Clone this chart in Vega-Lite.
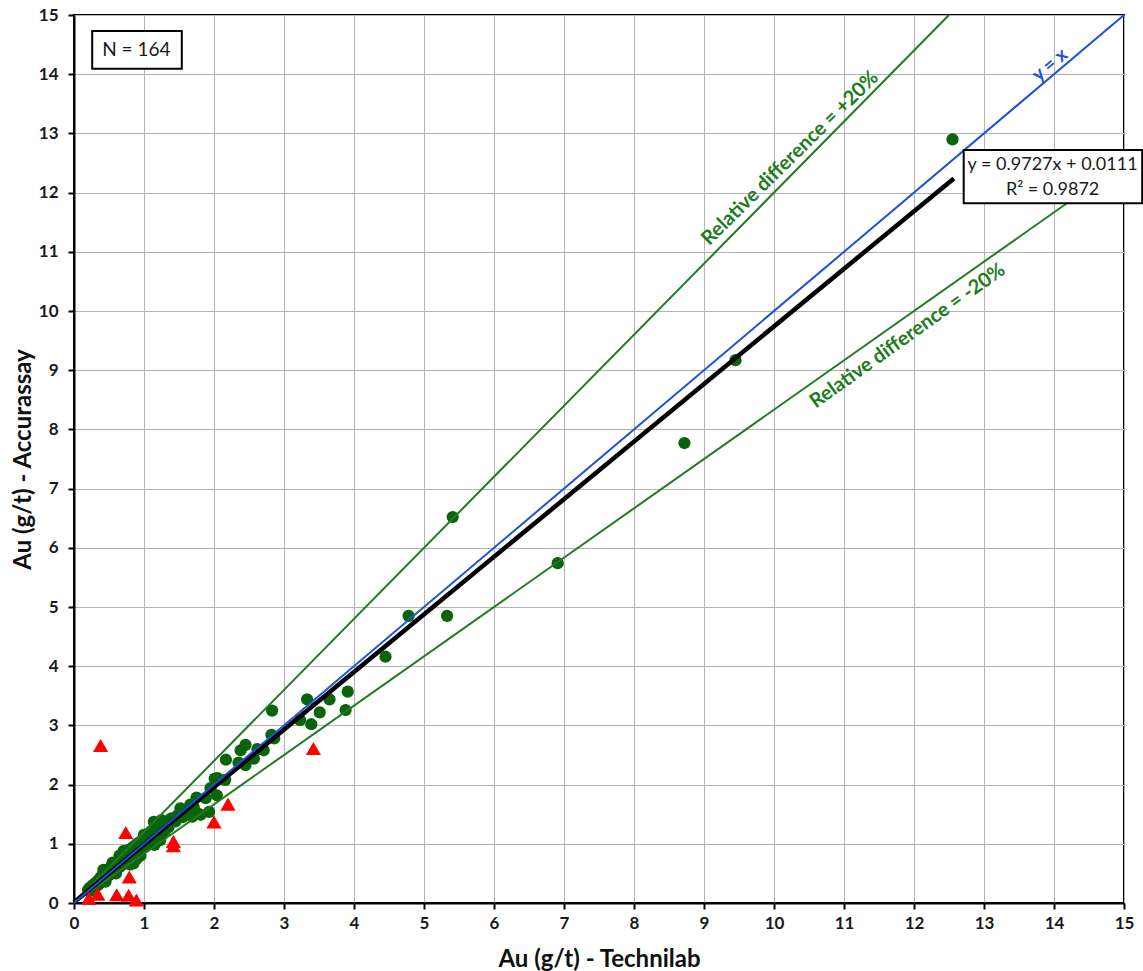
{
  "$schema": "https://vega.github.io/schema/vega-lite/v6.json",
  "width": 1050,
  "height": 888,
  "autosize": {"type": "none"},
  "padding": {"left": 74, "top": 15, "right": 19, "bottom": 68},
  "background": "white",
  "config": {
    "font": "Lato",
    "view": {"stroke": "black", "strokeWidth": 2}
  },
  "datasets": {
    "green": [
      {"technilab": 12.55, "accurassay": 12.9},
      {"technilab": 9.45, "accurassay": 9.17},
      {"technilab": 8.72, "accurassay": 7.77},
      {"technilab": 6.91, "accurassay": 5.74},
      {"technilab": 5.41, "accurassay": 6.52},
      {"technilab": 4.78, "accurassay": 4.85},
      {"technilab": 5.33, "accurassay": 4.85},
      {"technilab": 4.45, "accurassay": 4.16},
      {"technilab": 3.91, "accurassay": 3.57},
      {"technilab": 3.88, "accurassay": 3.26},
      {"technilab": 3.65, "accurassay": 3.44},
      {"technilab": 3.33, "accurassay": 3.44},
      {"technilab": 3.51, "accurassay": 3.22},
      {"technilab": 3.39, "accurassay": 3.02},
      {"technilab": 3.23, "accurassay": 3.09},
      {"technilab": 2.83, "accurassay": 3.25},
      {"technilab": 2.86, "accurassay": 2.78},
      {"technilab": 2.82, "accurassay": 2.84},
      {"technilab": 2.45, "accurassay": 2.67},
      {"technilab": 2.38, "accurassay": 2.58},
      {"technilab": 2.71, "accurassay": 2.58},
      {"technilab": 2.62, "accurassay": 2.6},
      {"technilab": 2.57, "accurassay": 2.44},
      {"technilab": 2.45, "accurassay": 2.33},
      {"technilab": 2.35, "accurassay": 2.37},
      {"technilab": 2.17, "accurassay": 2.42},
      {"technilab": 2.05, "accurassay": 2.11},
      {"technilab": 2.16, "accurassay": 2.08},
      {"technilab": 2.01, "accurassay": 2.1},
      {"technilab": 1.95, "accurassay": 1.94},
      {"technilab": 2.04, "accurassay": 1.82},
      {"technilab": 1.88, "accurassay": 1.77},
      {"technilab": 1.71, "accurassay": 1.62},
      {"technilab": 1.52, "accurassay": 1.6},
      {"technilab": 1.93, "accurassay": 1.54},
      {"technilab": 1.81, "accurassay": 1.49},
      {"technilab": 1.69, "accurassay": 1.46},
      {"technilab": 1.4, "accurassay": 1.43},
      {"technilab": 1.14, "accurassay": 1.37},
      {"technilab": 1.31, "accurassay": 1.35},
      {"technilab": 0.2, "accurassay": 0.22},
      {"technilab": 0.22, "accurassay": 0.25},
      {"technilab": 0.24, "accurassay": 0.21},
      {"technilab": 0.25, "accurassay": 0.28},
      {"technilab": 0.27, "accurassay": 0.24},
      {"technilab": 0.28, "accurassay": 0.31},
      {"technilab": 0.3, "accurassay": 0.27},
      {"technilab": 0.31, "accurassay": 0.34},
      {"technilab": 0.32, "accurassay": 0.29},
      {"technilab": 0.34, "accurassay": 0.37},
      {"technilab": 0.35, "accurassay": 0.31},
      {"technilab": 0.36, "accurassay": 0.4},
      {"technilab": 0.37, "accurassay": 0.34},
      {"technilab": 0.38, "accurassay": 0.43},
      {"technilab": 0.39, "accurassay": 0.36},
      {"technilab": 0.4, "accurassay": 0.46},
      {"technilab": 0.41, "accurassay": 0.38},
      {"technilab": 0.42, "accurassay": 0.49},
      {"technilab": 0.42, "accurassay": 0.56},
      {"technilab": 0.43, "accurassay": 0.41},
      {"technilab": 0.44, "accurassay": 0.52},
      {"technilab": 0.45, "accurassay": 0.43},
      {"technilab": 0.45, "accurassay": 0.36},
      {"technilab": 0.46, "accurassay": 0.55},
      {"technilab": 0.47, "accurassay": 0.45},
      {"technilab": 0.48, "accurassay": 0.5},
      {"technilab": 0.5, "accurassay": 0.47},
      {"technilab": 0.51, "accurassay": 0.58},
      {"technilab": 0.52, "accurassay": 0.5},
      {"technilab": 0.53, "accurassay": 0.61},
      {"technilab": 0.55, "accurassay": 0.52},
      {"technilab": 0.55, "accurassay": 0.68},
      {"technilab": 0.56, "accurassay": 0.63},
      {"technilab": 0.57, "accurassay": 0.55},
      {"technilab": 0.58, "accurassay": 0.66},
      {"technilab": 0.6, "accurassay": 0.57},
      {"technilab": 0.6, "accurassay": 0.5},
      {"technilab": 0.61, "accurassay": 0.68},
      {"technilab": 0.62, "accurassay": 0.59},
      {"technilab": 0.64, "accurassay": 0.71},
      {"technilab": 0.65, "accurassay": 0.61},
      {"technilab": 0.65, "accurassay": 0.8},
      {"technilab": 0.66, "accurassay": 0.74},
      {"technilab": 0.68, "accurassay": 0.64},
      {"technilab": 0.69, "accurassay": 0.78},
      {"technilab": 0.7, "accurassay": 0.66},
      {"technilab": 0.71, "accurassay": 0.88},
      {"technilab": 0.72, "accurassay": 0.7},
      {"technilab": 0.74, "accurassay": 0.83},
      {"technilab": 0.75, "accurassay": 0.68},
      {"technilab": 0.76, "accurassay": 0.86},
      {"technilab": 0.78, "accurassay": 0.72},
      {"technilab": 0.79, "accurassay": 0.9},
      {"technilab": 0.8, "accurassay": 0.75},
      {"technilab": 0.8, "accurassay": 0.65},
      {"technilab": 0.82, "accurassay": 0.92},
      {"technilab": 0.83, "accurassay": 0.78},
      {"technilab": 0.85, "accurassay": 0.95},
      {"technilab": 0.85, "accurassay": 0.67},
      {"technilab": 0.86, "accurassay": 0.8},
      {"technilab": 0.88, "accurassay": 0.97},
      {"technilab": 0.89, "accurassay": 0.74},
      {"technilab": 0.9, "accurassay": 1.0},
      {"technilab": 0.92, "accurassay": 0.85},
      {"technilab": 0.94, "accurassay": 1.03},
      {"technilab": 0.95, "accurassay": 0.88},
      {"technilab": 0.95, "accurassay": 0.8},
      {"technilab": 0.97, "accurassay": 1.06},
      {"technilab": 0.98, "accurassay": 0.92},
      {"technilab": 1.0, "accurassay": 1.1},
      {"technilab": 1.0, "accurassay": 1.15},
      {"technilab": 1.02, "accurassay": 0.95},
      {"technilab": 1.04, "accurassay": 1.13},
      {"technilab": 1.05, "accurassay": 0.98},
      {"technilab": 1.07, "accurassay": 1.18},
      {"technilab": 1.09, "accurassay": 1.02},
      {"technilab": 1.11, "accurassay": 1.22},
      {"technilab": 1.12, "accurassay": 1.05},
      {"technilab": 1.15, "accurassay": 0.98},
      {"technilab": 1.16, "accurassay": 1.08},
      {"technilab": 1.18, "accurassay": 1.27},
      {"technilab": 1.2, "accurassay": 1.12},
      {"technilab": 1.22, "accurassay": 1.31},
      {"technilab": 1.23, "accurassay": 1.06},
      {"technilab": 1.25, "accurassay": 1.16},
      {"technilab": 1.25, "accurassay": 1.4},
      {"technilab": 1.27, "accurassay": 1.34},
      {"technilab": 1.3, "accurassay": 1.22},
      {"technilab": 1.35, "accurassay": 1.28},
      {"technilab": 1.38, "accurassay": 1.42},
      {"technilab": 1.45, "accurassay": 1.38},
      {"technilab": 1.48, "accurassay": 1.48},
      {"technilab": 1.55, "accurassay": 1.45},
      {"technilab": 1.58, "accurassay": 1.56},
      {"technilab": 1.62, "accurassay": 1.52},
      {"technilab": 1.66, "accurassay": 1.66},
      {"technilab": 1.76, "accurassay": 1.52},
      {"technilab": 1.75, "accurassay": 1.78}
    ],
    "red": [
      {"technilab": 0.38, "accurassay": 2.66},
      {"technilab": 0.74, "accurassay": 1.19},
      {"technilab": 0.79, "accurassay": 0.44},
      {"technilab": 0.21, "accurassay": 0.08},
      {"technilab": 0.34, "accurassay": 0.15},
      {"technilab": 0.61, "accurassay": 0.14},
      {"technilab": 0.78, "accurassay": 0.13},
      {"technilab": 0.89, "accurassay": 0.05},
      {"technilab": 1.42, "accurassay": 1.04},
      {"technilab": 1.42, "accurassay": 0.97},
      {"technilab": 2.0, "accurassay": 1.37},
      {"technilab": 2.2, "accurassay": 1.67},
      {"technilab": 3.42, "accurassay": 2.61}
    ]
  },
  "encoding": {
    "x": {
      "field": "technilab", "type": "quantitative",
      "scale": {"domain": [0, 15], "nice": false, "zero": false},
      "axis": {
        "title": "Au (g/t) - Technilab",
        "values": [0, 0.5, 1, 1.5, 2, 2.5, 3, 3.5, 4, 4.5, 5, 5.5, 6, 6.5, 7, 7.5, 8, 8.5, 9, 9.5, 10, 10.5, 11, 11.5, 12, 12.5, 13, 13.5, 14, 14.5, 15],
        "format": "d",
        "labelExpr": "datum.value % 1 === 0 ? datum.label : ''",
        "grid": true, "gridColor": "#b4b4b4", "gridWidth": 1,
        "domainColor": "black", "domainWidth": 2,
        "tickColor": "black", "tickWidth": 2, "tickSize": 6,
        "tickOpacity": {"condition": {"test": "datum.value % 1 !== 0", "value": 0}, "value": 1},
        "labelFont": "Lato", "labelFontSize": 17, "labelFontWeight": "bold", "labelColor": "#1a1a1a", "labelPadding": 6,
        "labelFlush": false,
        "titleFont": "Lato", "titleFontSize": 24, "titleFontWeight": "bold", "titleColor": "#111111",
        "titleY": 56, "titleBaseline": "middle"
      }
    },
    "y": {
      "field": "accurassay", "type": "quantitative",
      "scale": {"domain": [0, 15], "nice": false, "zero": false},
      "axis": {
        "title": "Au  (g/t) - Accurassay",
        "values": [0, 0.5, 1, 1.5, 2, 2.5, 3, 3.5, 4, 4.5, 5, 5.5, 6, 6.5, 7, 7.5, 8, 8.5, 9, 9.5, 10, 10.5, 11, 11.5, 12, 12.5, 13, 13.5, 14, 14.5, 15],
        "format": "d",
        "labelExpr": "datum.value % 1 === 0 ? datum.label : ''",
        "grid": true, "gridColor": "#b4b4b4", "gridWidth": 1,
        "domainColor": "black", "domainWidth": 2,
        "tickColor": "black", "tickWidth": 2, "tickSize": 6,
        "tickOpacity": {"condition": {"test": "datum.value % 1 !== 0", "value": 0}, "value": 1},
        "labelFont": "Lato", "labelFontSize": 17, "labelFontWeight": "bold", "labelColor": "#1a1a1a", "labelPadding": 10,
        "labelFlush": false,
        "titleFont": "Lato", "titleFontSize": 24, "titleFontWeight": "bold", "titleColor": "#111111",
        "titleX": -51, "titleBaseline": "middle"
      }
    }
  },
  "layer": [
    {
      "data": {"name": "green"},
      "mark": {"type": "point", "shape": "circle", "filled": true, "opacity": 1, "color": "#0a640a", "size": 150}
    },
    {
      "data": {"values": [
        {"line": "plus", "technilab": 0, "accurassay": 0},
        {"line": "plus", "technilab": 12.5, "accurassay": 15},
        {"line": "minus", "technilab": 0, "accurassay": 0},
        {"line": "minus", "technilab": 15, "accurassay": 12.5}
      ]},
      "mark": {"type": "line", "color": "#227a22", "strokeWidth": 2},
      "encoding": {"detail": {"field": "line"}}
    },
    {
      "data": {"values": [
        {"technilab": 0, "accurassay": 0.0111},
        {"technilab": 12.57, "accurassay": 12.24}
      ]},
      "mark": {"type": "line", "color": "black", "strokeWidth": 4.5},
      "encoding": {}
    },
    {
      "data": {"values": [
        {"technilab": 0, "accurassay": 0},
        {"technilab": 15, "accurassay": 15}
      ]},
      "mark": {"type": "line", "color": "#1f4fdc", "strokeWidth": 2},
      "encoding": {}
    },
    {
      "data": {"name": "red"},
      "mark": {"type": "point", "shape": "triangle-up", "filled": true, "opacity": 1, "color": "#ff0000", "size": 230}
    },
    {
      "data": {"values": [{"technilab": 10.23, "accurassay": 12.58, "label": "Relative difference = +20%"}]},
      "mark": {"type": "text", "angle": -44.5, "color": "#1e7b1e", "font": "Lato", "fontWeight": "bold", "fontSize": 20, "align": "center", "baseline": "middle"},
      "encoding": {"text": {"field": "label"}}
    },
    {
      "data": {"values": [{"technilab": 11.91, "accurassay": 9.58, "label": "Relative difference = -20%"}]},
      "mark": {"type": "text", "angle": -35.5, "color": "#1e7b1e", "font": "Lato", "fontWeight": "bold", "fontSize": 20, "align": "center", "baseline": "middle"},
      "encoding": {"text": {"field": "label"}}
    },
    {
      "data": {"values": [{"technilab": 13.94, "accurassay": 14.16, "label": "y = x"}]},
      "mark": {"type": "text", "angle": -40, "color": "#1f4fdc", "font": "Lato", "fontWeight": "bold", "fontSize": 19, "align": "center", "baseline": "middle"},
      "encoding": {"text": {"field": "label"}}
    },
    {
      "data": {"values": [
        {"technilab": 0.26, "t2": 1.54, "accurassay": 14.73, "a2": 14.09},
        {"technilab": 12.71, "t2": 15.26, "accurassay": 12.72, "a2": 11.82}
      ]},
      "mark": {"type": "rect", "fill": "white", "stroke": "black", "strokeWidth": 2},
      "encoding": {
        "x2": {"field": "t2"},
        "y2": {"field": "a2"}
      }
    },
    {
      "data": {"values": [{"technilab": 0.89, "accurassay": 14.41, "label": "N = 164"}]},
      "mark": {"type": "text", "color": "#1a1a1a", "font": "Lato", "fontSize": 19, "align": "center", "baseline": "middle"},
      "encoding": {"text": {"field": "label"}}
    },
    {
      "data": {"values": [
        {"technilab": 13.98, "accurassay": 12.47, "label": "y = 0.9727x + 0.0111"},
        {"technilab": 13.98, "accurassay": 12.04, "label": "R² = 0.9872"}
      ]},
      "mark": {"type": "text", "color": "#1a1a1a", "font": "Lato", "fontSize": 18, "align": "center", "baseline": "middle"},
      "encoding": {"text": {"field": "label"}}
    }
  ]
}
